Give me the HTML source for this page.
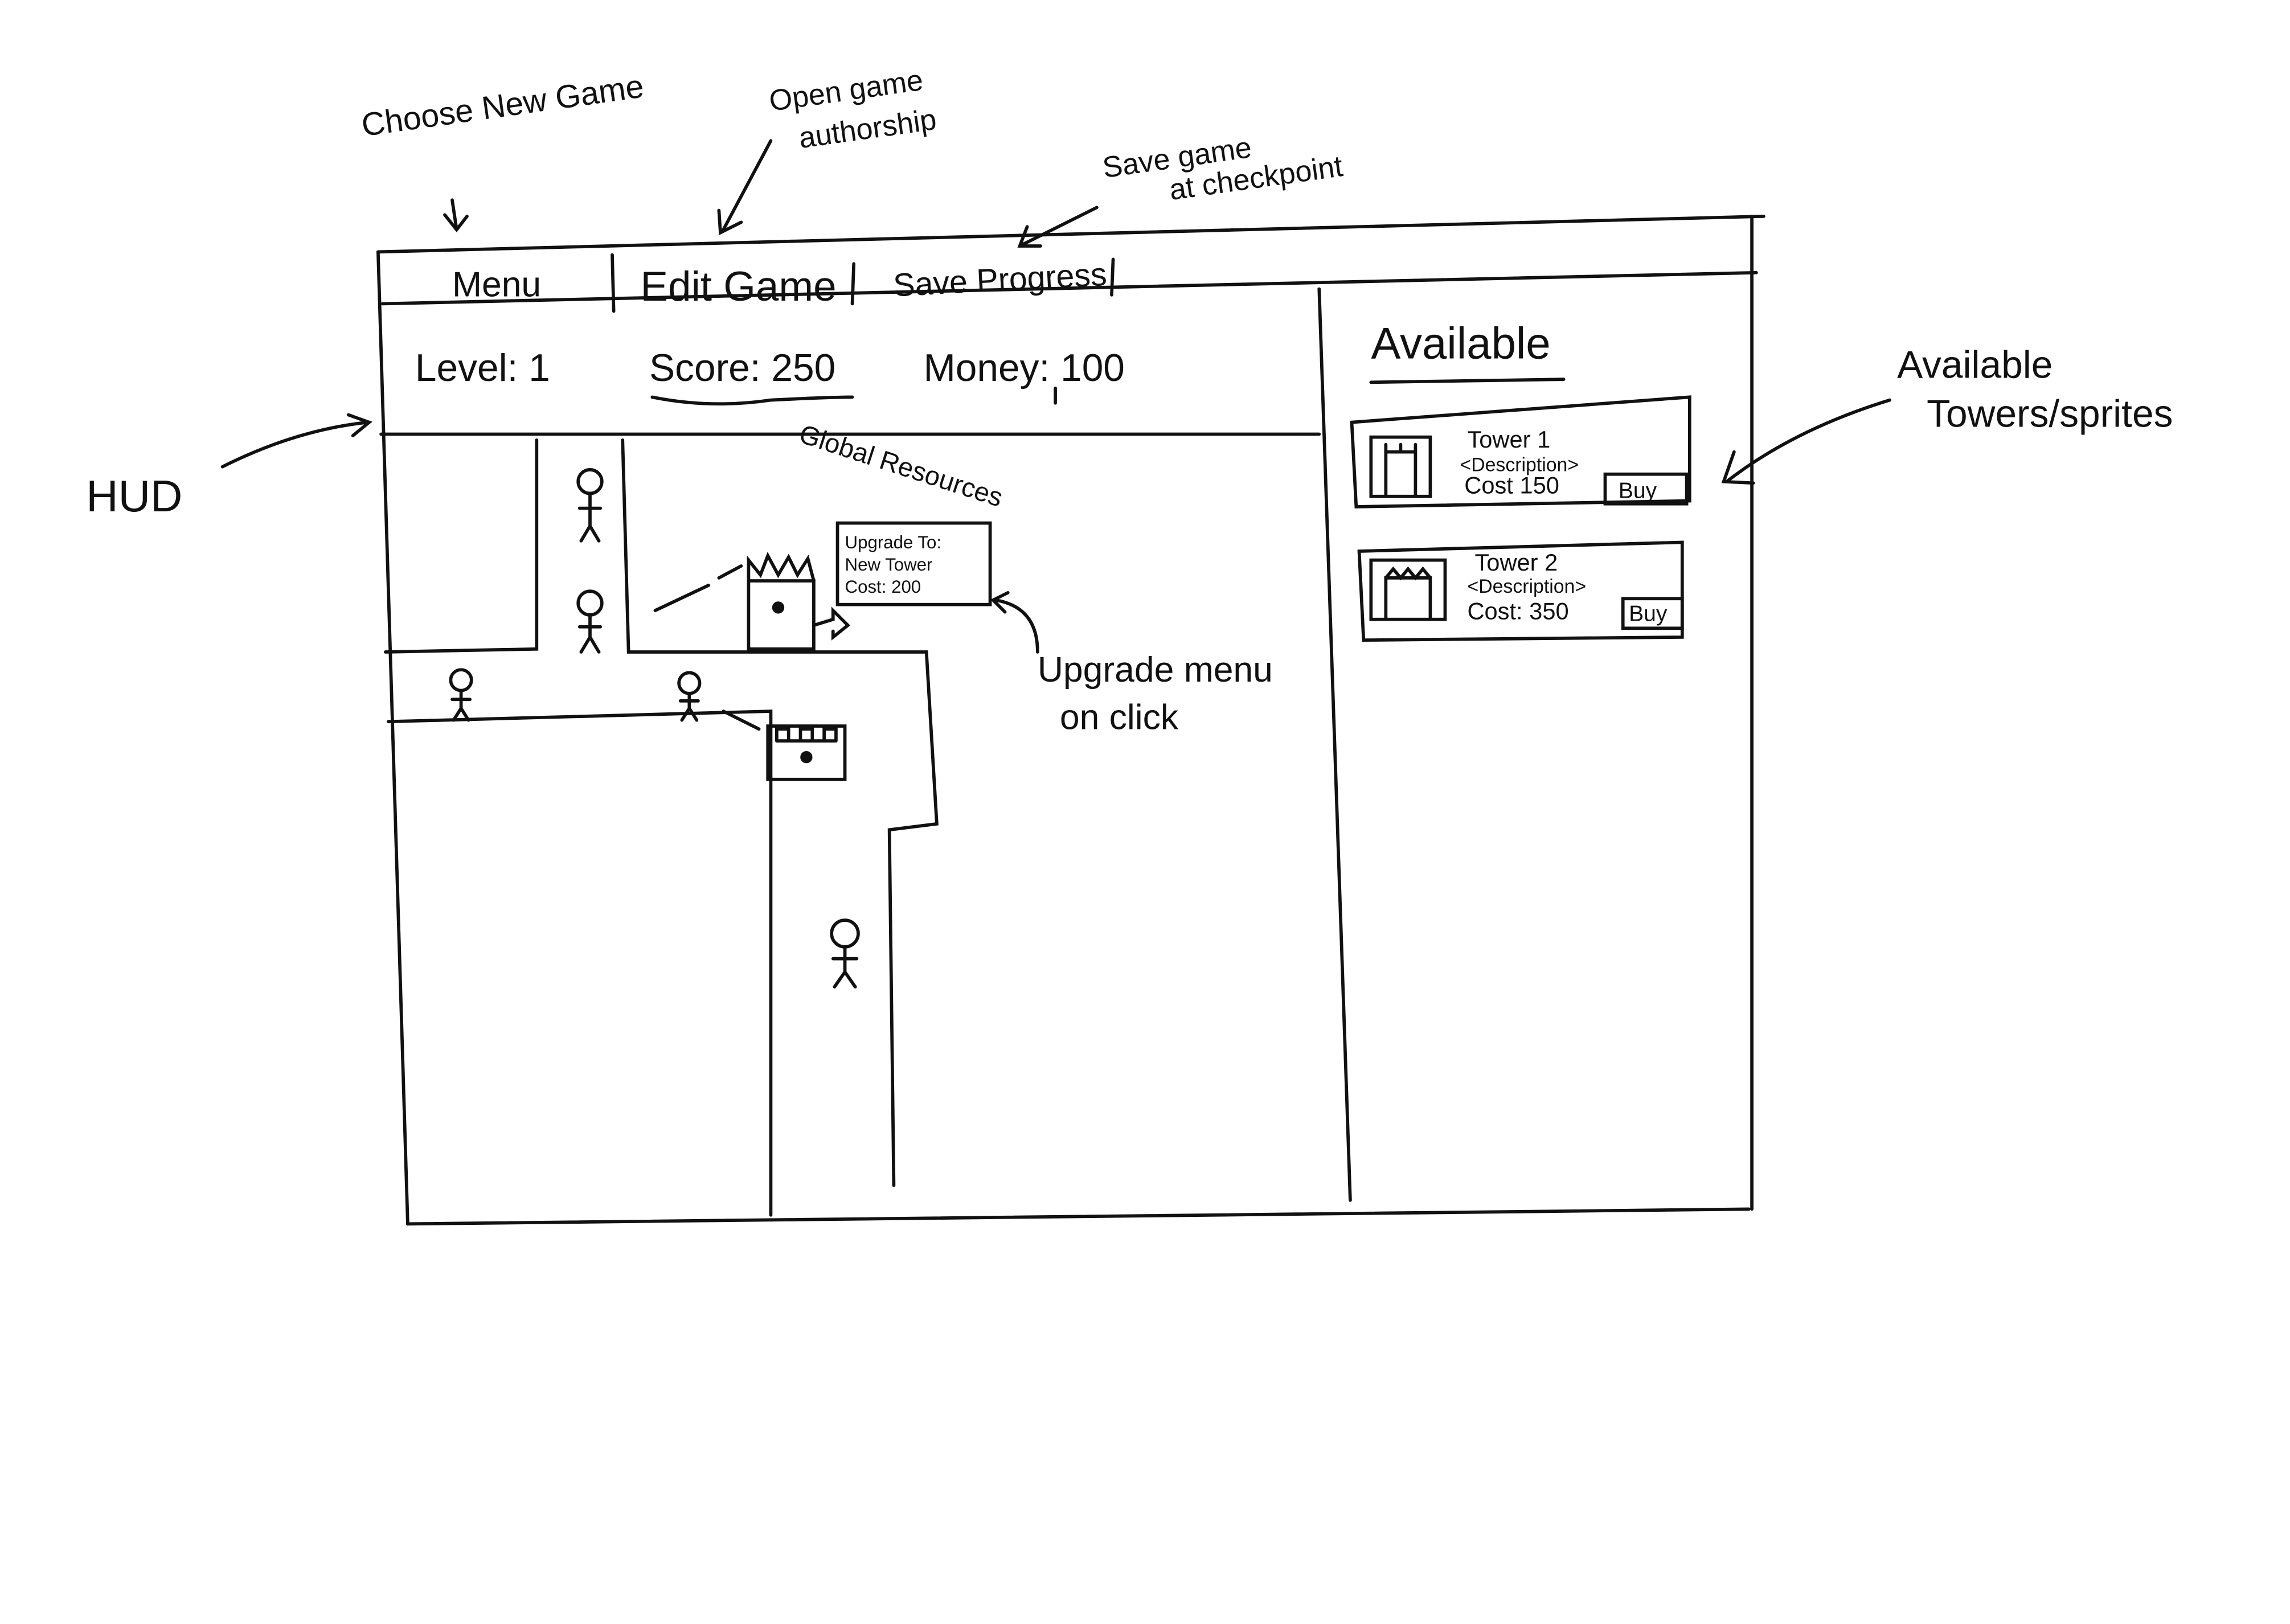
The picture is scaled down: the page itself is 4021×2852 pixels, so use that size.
<!DOCTYPE html>
<html><head><meta charset="utf-8"><style>
html,body{margin:0;padding:0;background:#fff;}
svg{display:block}
text{font-family:"Liberation Sans",sans-serif;fill:#111;}
</style></head><body>
<svg width="4021" height="2852" viewBox="0 0 1545 1096" xmlns="http://www.w3.org/2000/svg">
<rect width="1545" height="1096" fill="#fff"/>
<g stroke="#111" stroke-width="2.2" fill="none" stroke-linecap="round">
<!-- outer frame -->
<path d="M255 170 L1190 146"/>
<path d="M255 170 L275 826"/>
<path d="M275 826 L1180 816"/>
<path d="M1182 146 L1182 816"/>
<path d="M258 205 L1185 184"/>
<path d="M413 172 L414 210"/><path d="M576 178 L575 205"/><path d="M751 175 L750 199"/>
<path d="M257 293 L890 293"/>
<path d="M890 195 L911 810"/>
<!-- roads -->
<path d="M362 297 L362 438 L260 440"/>
<path d="M420 297 L424 440 L625 440 L632 556 L600 560 L603 800"/>
<path d="M262 487 L520 480 L520 820"/>
<!-- towers -->
<rect x="505" y="392" width="44" height="46"/>
<path d="M505 392 L505 378 L513 388 L518 375 L525 388 L532 376 L538 388 L545 377 L549 392"/>
<circle cx="525" cy="410" r="3" fill="#111"/>
<path d="M549 422 L562 418 L562 412 L572 422 L562 430 L562 426"/>
<path d="M442 412 L478 395 M485 390 L500 382"/>
<rect x="518" y="490" width="52" height="36"/>
<path d="M524 500 L524 492 L532 492 L532 500 M540 500 L540 492 L548 492 L548 500 M556 500 L556 492 L564 492 L564 500 M524 500 L564 500"/>
<circle cx="544" cy="511" r="3" fill="#111"/>
<path d="M488 480 L512 492"/>
<!-- upgrade box -->
<rect x="565" y="353" width="103" height="55"/>
<!-- stick figures -->
<g>
<circle cx="398" cy="325" r="8"/><path d="M398 333 L398 355 M391 343 L405 343 M398 355 L392 365 M398 355 L404 365"/>
<circle cx="398" cy="407" r="8"/><path d="M398 415 L398 430 M391 423 L405 423 M398 430 L392 440 M398 430 L404 440"/>
<circle cx="311" cy="459" r="7"/><path d="M311 466 L311 478 M305 472 L317 472 M311 478 L306 486 M311 478 L316 486"/>
<circle cx="465" cy="461" r="7"/><path d="M465 468 L465 478 M459 473 L471 473 M465 478 L460 486 M465 478 L470 486"/>
<circle cx="570" cy="630" r="9"/><path d="M570 639 L570 656 M562 647 L578 647 M570 656 L563 666 M570 656 L577 666"/>
</g>
<!-- side panel -->
<path d="M925 258 L1055 256"/>
<path d="M912 285 L1140 268 L1140 338 L915 342 Z"/>
<rect x="925" y="295" width="40" height="40"/>
<path d="M935 335 L935 305 L955 305 L955 335 M935 305 L935 300 M945 305 L945 300 M955 305 L955 300"/>
<rect x="1083" y="320" width="55" height="20"/>
<path d="M917 372 L1135 366 L1135 430 L920 432 Z"/>
<rect x="925" y="378" width="50" height="40"/>
<path d="M935 418 L935 390 L965 390 L965 418 M935 390 L940 384 L945 390 L950 384 L955 390 L960 384 L965 390"/>
<rect x="1095" y="404" width="40" height="20"/>
<!-- arrows -->
<path d="M305 135 L308 155 M300 145 L308 155 L315 146"/>
<path d="M520 95 L488 155 M485 142 L486 157 L500 150"/>
<path d="M740 140 L690 165 M693 153 L688 166 L702 166"/>
<path d="M150 315 Q200 290 248 285 M235 280 L249 285 L238 294"/>
<path d="M1275 270 Q1210 290 1165 325 M1170 305 L1163 325 L1183 326"/>
<path d="M700 440 Q700 410 672 405 M680 400 L670 405 L678 413"/>
<path d="M440 268 Q480 276 520 270 Q560 268 575 268"/>
<path d="M712 262 L712 272"/>
</g>
<g font-size="22">
<text x="245" y="92" transform="rotate(-8 245 92)">Choose New Game</text>
<text x="520" y="75" transform="rotate(-8 520 75)" font-size="20">Open game</text>
<text x="540" y="100" transform="rotate(-8 540 100)" font-size="20">authorship</text>
<text x="745" y="120" transform="rotate(-8 745 120)" font-size="20">Save game</text>
<text x="790" y="135" transform="rotate(-8 790 135)" font-size="20">at checkpoint</text>
<text x="305" y="200" font-size="24">Menu</text>
<text x="432" y="203" font-size="28">Edit Game</text>
<text x="603" y="200" transform="rotate(-3 603 200)">Save Progress</text>
<text x="280" y="257" font-size="26">Level:  1</text>
<text x="438" y="257" font-size="26">Score: 250</text>
<text x="623" y="257" font-size="26">Money: 100</text>
<text x="58" y="345" font-size="30">HUD</text>
<text x="538" y="298" transform="rotate(18 538 298)" font-size="18">Global Resources</text>
<text x="570" y="370" font-size="12">Upgrade To:</text>
<text x="570" y="385" font-size="12">New Tower</text>
<text x="570" y="400" font-size="12">Cost: 200</text>
<text x="700" y="460" font-size="24">Upgrade menu</text>
<text x="715" y="492" font-size="24">on click</text>
<text x="925" y="242" font-size="30">Available</text>
<text x="1280" y="255" font-size="26">Available</text>
<text x="1300" y="288" font-size="26">Towers/sprites</text>
<text x="990" y="302" font-size="16">Tower 1</text>
<text x="985" y="318" font-size="13">&lt;Description&gt;</text>
<text x="988" y="333" font-size="16">Cost 150</text>
<text x="1092" y="336" font-size="15">Buy</text>
<text x="995" y="385" font-size="16">Tower 2</text>
<text x="990" y="400" font-size="13">&lt;Description&gt;</text>
<text x="990" y="418" font-size="16">Cost: 350</text>
<text x="1099" y="419" font-size="15">Buy</text>
</g>
</svg>
</body></html>
